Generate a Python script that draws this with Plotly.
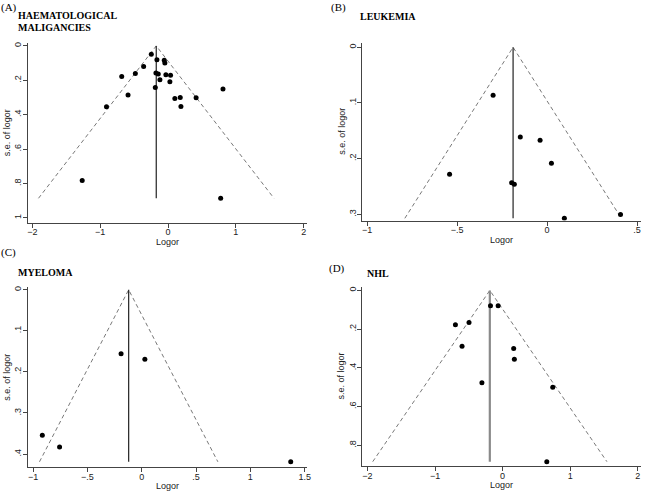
import plotly.graph_objects as go

W, H = 647, 491

# ---------------- data ----------------
# Panel A: haematological malignancies
a_logor = [-0.247, -0.164, -0.056, -0.047, -0.36, -0.482, -0.683, -0.179, -0.144, -0.032,
           0.037, -0.12, 0.027, -0.188, 0.81, -0.59, 0.10, 0.18, 0.414, 0.19, -0.908,
           -1.266, 0.776]
a_se = [0.048, 0.081, 0.083, 0.10, 0.12, 0.16, 0.178, 0.157, 0.164, 0.168,
        0.170, 0.197, 0.209, 0.242, 0.251, 0.286, 0.306, 0.30, 0.302, 0.352, 0.354,
        0.783, 0.886]
a_pooled = -0.174

# Panel B: leukemia
b_logor = [-0.300, -0.149, -0.039, 0.024, -0.542, -0.197, -0.182, 0.408, 0.096]
b_se = [0.086, 0.161, 0.167, 0.208, 0.228, 0.243, 0.246, 0.300, 0.307]
b_pooled = -0.189

# Panel C: myeloma
c_logor = [-0.19, 0.029, -0.915, -0.756, 1.372]
c_se = [0.156, 0.169, 0.354, 0.383, 0.419]
c_pooled = -0.12

# Panel D: NHL
d_logor = [-0.179, -0.066, -0.698, -0.497, -0.60, 0.164, 0.174, -0.306, 0.742, 0.654]
d_se = [0.079, 0.079, 0.177, 0.165, 0.288, 0.300, 0.355, 0.476, 0.50, 0.884]
d_pooled = -0.189

# tick labels
a_xticks = [-2, -1, 0, 1, 2]
a_xtext = ["\u22122", "\u22121", "0", "1", "2"]
a_yticks = [0, 0.2, 0.4, 0.6, 0.8, 1]
a_ytext = ["0", ".2", ".4", ".6", ".8", "1"]
b_xticks = [-1, -0.5, 0, 0.5]
b_xtext = ["\u22121", "\u2212.5", "0", ".5"]
b_yticks = [0, 0.1, 0.2, 0.3]
b_ytext = ["0", ".1", ".2", ".3"]
c_xticks = [-1, -0.5, 0, 0.5, 1, 1.5]
c_xtext = ["\u22121", "\u2212.5", "0", ".5", "1", "1.5"]
c_yticks = [0, 0.1, 0.2, 0.3, 0.4]
c_ytext = ["0", ".1", ".2", ".3", ".4"]
d_xticks = [-2, -1, 0, 1, 2]
d_xtext = ["\u22122", "\u22121", "0", "1", "2"]
d_yticks = [0, 0.2, 0.4, 0.6, 0.8]
d_ytext = ["0", ".2", ".4", ".6", ".8"]

panels = [
    dict(x=a_logor, se=a_se, pooled=a_pooled, xt=a_xticks, xtt=a_xtext, yt=a_yticks, ytt=a_ytext,
         px=(27.3, 308.3), py=(41.7, 222.0), xr=[-2.064, 2.048], yr=[1.027, -0.019],
         vcol="#222222", vw=1.2),
    dict(x=b_logor, se=b_se, pooled=b_pooled, xt=b_xticks, xtt=b_xtext, yt=b_yticks, ytt=b_ytext,
         px=(364.3, 645.0), py=(41.7, 220.0), xr=[-1.026, 0.522], yr=[0.311, -0.0083],
         vcol="#222222", vw=1.2),
    dict(x=c_logor, se=c_se, pooled=c_pooled, xt=c_xticks, xtt=c_xtext, yt=c_yticks, ytt=c_ytext,
         px=(27.3, 308.3), py=(286.7, 466.7), xr=[-1.046, 1.521], yr=[0.431, -0.0065],
         vcol="#222222", vw=1.2),
    dict(x=d_logor, se=d_se, pooled=d_pooled, xt=d_xticks, xtt=d_xtext, yt=d_yticks, ytt=d_ytext,
         px=(364.3, 645.0), py=(286.7, 465.7), xr=[-2.073, 2.048], yr=[0.905, -0.017],
         vcol="#8a8a8a", vw=2.2),
]

fig = go.Figure()
layout = {}
annotations = []
tickfont = dict(family="Liberation Sans, Arial, sans-serif", size=9, color="#222222")
titlefont = dict(family="Liberation Sans, Arial, sans-serif", size=9, color="#222222")

for i, p in enumerate(panels):
    n = "" if i == 0 else str(i + 1)
    xa, ya = "x" + n, "y" + n
    semax = max(p["se"])
    # funnel (pseudo 95% limits)
    fig.add_trace(go.Scatter(
        x=[p["pooled"] - 1.96 * semax, p["pooled"], p["pooled"] + 1.96 * semax],
        y=[semax, 0, semax], mode="lines", xaxis=xa, yaxis=ya,
        line=dict(color="#555555", width=0.8, dash="4px,3px"), showlegend=False, hoverinfo="skip"))
    # pooled vertical line
    fig.add_trace(go.Scatter(
        x=[p["pooled"], p["pooled"]], y=[0, semax], mode="lines", xaxis=xa, yaxis=ya,
        line=dict(color=p["vcol"], width=p["vw"]), showlegend=False, hoverinfo="skip"))
    # studies
    fig.add_trace(go.Scatter(
        x=p["x"], y=p["se"], mode="markers", xaxis=xa, yaxis=ya,
        marker=dict(color="black", size=5), showlegend=False))

    common = dict(showline=True, linecolor="#444444", linewidth=1, ticks="outside", ticklen=4,
                  tickcolor="#444444", tickwidth=1, showgrid=False, zeroline=False,
                  tickfont=tickfont, tickmode="array")
    layout["xaxis" + n] = dict(common, domain=[p["px"][0] / W, p["px"][1] / W], range=p["xr"],
                               anchor=ya, tickvals=p["xt"], ticktext=p["xtt"], ticklabelstandoff=-3)
    layout["yaxis" + n] = dict(common, domain=[1 - p["py"][1] / H, 1 - p["py"][0] / H], range=p["yr"],
                               anchor=xa, tickvals=p["yt"], ticktext=p["ytt"], tickangle=-90,
                               ticklabelstandoff=-2)
    # axis titles
    cx = (p["px"][0] + p["px"][1]) / 2
    annotations.append(dict(text="Logor", x=cx / W, y=1 - (p["py"][1] + 19.5) / H, xref="paper",
                            yref="paper", showarrow=False, font=titlefont, xanchor="center",
                            yanchor="middle"))
    cy = (p["py"][0] + p["py"][1]) / 2
    annotations.append(dict(text="s.e. of logor", x=(p["px"][0] - 21.5) / W, y=1 - cy / H, xref="paper",
                            yref="paper", showarrow=False, font=titlefont, textangle=-90,
                            xanchor="center", yanchor="middle"))

serif = "Liberation Serif, Times New Roman, serif"
def lab(text, x, y, anchor="center", size=11):
    return dict(text=text, x=x / W, y=1 - y / H, xref="paper", yref="paper", showarrow=False,
                xanchor=anchor, yanchor="middle", align="left",
                font=dict(family=serif, size=size, color="black"))

annotations += [
    lab("(A)", 8, 7),
    lab("<b>HAEMATOLOGICAL</b>", 15, 15, anchor="left", size=10),
    lab("<b>MALIGANCIES</b>", 15, 27, anchor="left", size=10),
    lab("(B)", 340, 7),
    lab("<b>LEUKEMIA</b>", 360, 16, anchor="left", size=10),
    lab("(C)", 8, 252),
    lab("<b>MYELOMA</b>", 15, 272, anchor="left", size=10),
    lab("(D)", 339, 268),
    lab("<b>NHL</b>", 367, 273, anchor="left", size=10),
]

fig.update_layout(**layout)
fig.update_layout(width=W, height=H, margin=dict(l=0, r=0, t=0, b=0),
                  paper_bgcolor="white", plot_bgcolor="white", annotations=annotations,
                  showlegend=False)
fig.write_html("out.html", config={"displayModeBar": False},
               post_script="document.body.style.margin='0';document.body.style.overflow='hidden';")
